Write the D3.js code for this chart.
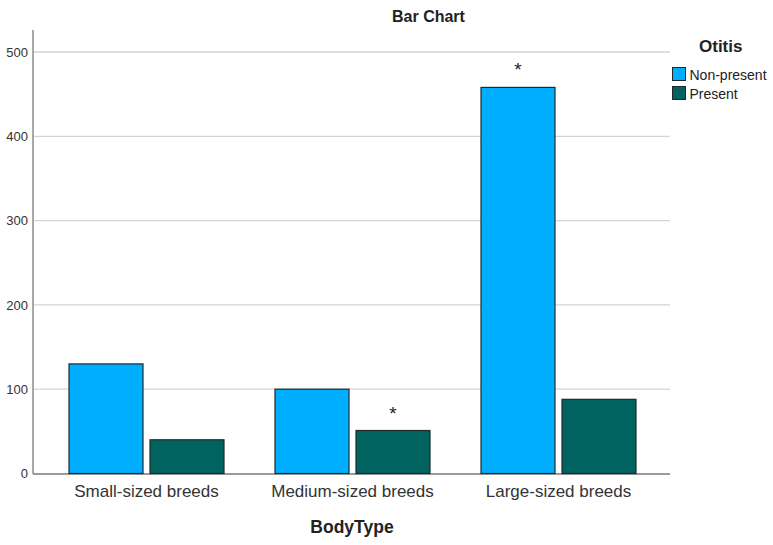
<!DOCTYPE html>
<html><head><meta charset="utf-8">
<script src="https://cdn.jsdelivr.net/npm/d3@7"></script>
<style>body{margin:0;background:#fff}svg{display:block;font-family:"Liberation Sans",Arial,sans-serif}</style>
</head><body><svg id="c" width="773" height="545"></svg>
<script>
const categories = ["Small-sized breeds", "Medium-sized breeds", "Large-sized breeds"];
const seriesNames = ["Non-present", "Present"];
const nonPresent = [130, 100, 458];
const present = [40, 51, 88];
const stars = [[false, false], [false, true], [true, false]];
const yTicks = [0, 100, 200, 300, 400, 500];
const colors = ["#00aeff", "#00635f"];

const FONT = "Liberation Sans, Arial, sans-serif";
const svg = d3.select("#c");
const y = d3.scaleLinear().domain([0, 500]).range([473.5, 52]);
const x = d3.scaleBand().domain(categories).range([43.5, 661.5]).paddingInner(0).paddingOuter(0);
const xs = d3.scaleBand().domain(seriesNames).range([25.5, 206 - 25.5]).paddingInner(0.0864);

// gridlines
svg.append("g").selectAll("line").data(yTicks.filter(d => d > 0)).join("line")
  .attr("x1", 33).attr("x2", 670).attr("y1", d => y(d)).attr("y2", d => y(d))
  .attr("stroke", "#d4d4d4").attr("stroke-width", 1.3);

// y axis
const ya = svg.append("g").attr("transform", "translate(33,0)")
  .call(d3.axisLeft(y).tickValues(yTicks).tickSize(0).tickPadding(5));
ya.select(".domain").remove();
ya.selectAll("text").attr("font-size", 13).attr("fill", "#333").attr("font-family", FONT);
svg.append("line").attr("x1", 33).attr("x2", 33).attr("y1", 30).attr("y2", 474).attr("stroke", "#8c8c8c").attr("stroke-width", 1.5);
svg.append("line").attr("x1", 33).attr("x2", 670).attr("y1", 474).attr("y2", 474).attr("stroke", "#7a7a7a").attr("stroke-width", 1.5);

// bars
const data = [];
categories.forEach((c, i) => {
  data.push({c, s: seriesNames[0], v: nonPresent[i], star: stars[i][0], k: 0});
  data.push({c, s: seriesNames[1], v: present[i], star: stars[i][1], k: 1});
});
svg.append("g").selectAll("rect").data(data).join("rect")
  .attr("x", d => x(d.c) + xs(d.s))
  .attr("width", xs.bandwidth())
  .attr("y", d => y(d.v))
  .attr("height", d => y(0) - y(d.v))
  .attr("fill", d => colors[d.k])
  .attr("stroke", "#1e2a2e").attr("stroke-width", 1.2);

svg.append("g").selectAll("text").data(data.filter(d => d.star)).join("text")
  .attr("x", d => x(d.c) + xs(d.s) + xs.bandwidth() / 2)
  .attr("y", d => y(d.v) - 11)
  .attr("text-anchor", "middle").attr("font-size", 19).attr("fill", "#222")
  .text("*");

// x axis labels
const xa = svg.append("g").attr("transform", "translate(0,474)")
  .call(d3.axisBottom(x).tickSize(0).tickPadding(11));
xa.select(".domain").remove();
xa.selectAll("text").attr("font-size", 17).attr("fill", "#333").attr("font-family", FONT);

// titles
svg.append("text").attr("x", 392).attr("y", 22).attr("text-anchor", "start")
  .attr("font-size", 16).attr("font-weight", "bold").attr("fill", "#222").text("Bar Chart");
svg.append("text").attr("x", 352).attr("y", 533).attr("text-anchor", "middle")
  .attr("font-size", 17.5).attr("font-weight", "bold").attr("fill", "#222").text("BodyType");

// legend
svg.append("text").attr("x", 699).attr("y", 52).attr("text-anchor", "start")
  .attr("font-size", 17).attr("font-weight", "bold").attr("fill", "#222").text("Otitis");
const lg = svg.append("g").selectAll("g").data(seriesNames).join("g")
  .attr("transform", (d, i) => `translate(672.5,${67.5 + i * 19})`);
lg.append("rect").attr("width", 13).attr("height", 13)
  .attr("fill", (d, i) => colors[i]).attr("stroke", "#1e2a2e").attr("stroke-width", 1);
lg.append("text").attr("x", 17).attr("y", 12).attr("font-size", 14).attr("fill", "#222").text(d => d);
</script></body></html>
